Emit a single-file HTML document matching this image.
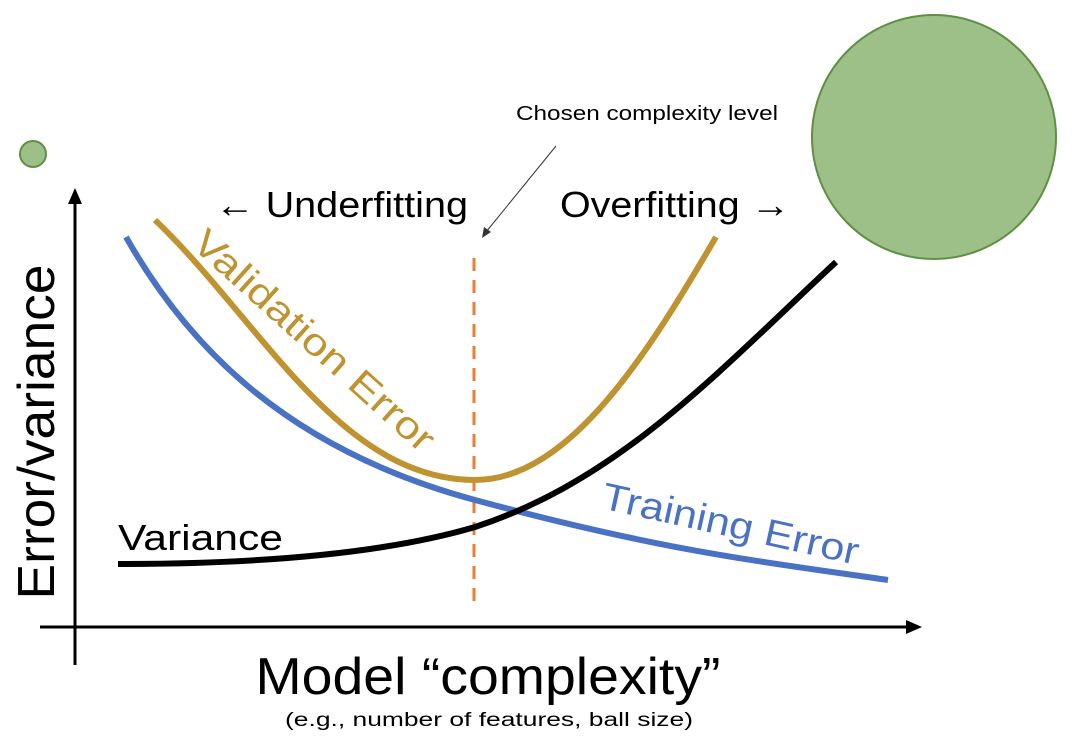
<!DOCTYPE html>
<html><head><meta charset="utf-8"><style>
html,body{margin:0;padding:0;background:#fff;}
svg{display:block;font-family:"Liberation Sans",sans-serif;}
</style></head><body>
<svg width="1074" height="742" viewBox="0 0 1074 742" xmlns="http://www.w3.org/2000/svg">
<circle cx="33" cy="154" r="13" fill="#9dc088" stroke="#5f8f42" stroke-width="2"/>
<circle cx="934" cy="137" r="122" fill="#9dc088" stroke="#5f8f42" stroke-width="2"/>
<line x1="75" y1="665" x2="75" y2="200" stroke="#000" stroke-width="3"/>
<polygon points="75,188 68,204 82,204" fill="#000"/>
<line x1="40" y1="627" x2="908" y2="627" stroke="#000" stroke-width="3"/>
<polygon points="922,627 906,620 906,634" fill="#000"/>
<line x1="474" y1="258" x2="474" y2="602" stroke="#ed7d31" stroke-width="3" stroke-dasharray="13,9"/>
<path d="M126,237 C190,350 290,450 475,500 S750,560 888,580" fill="none" stroke="#4a72c4" stroke-width="6"/>
<path d="M155,220 C260,320 340,480 475,480 C570,480 650,350 716,237" fill="none" stroke="#bf9330" stroke-width="6"/>
<path d="M118,564 C250,564 380,555 475,527 C620,480 720,370 836,262" fill="none" stroke="#000" stroke-width="6"/>
<line x1="556" y1="146" x2="486" y2="232" stroke="#333" stroke-width="1"/>
<polygon points="482,238 484,227 491,232" fill="#333"/>
<text x="516" y="120" font-size="20" textLength="262" lengthAdjust="spacingAndGlyphs">Chosen complexity level</text>
<text x="215" y="217" font-size="36" textLength="253" lengthAdjust="spacingAndGlyphs">← Underfitting</text>
<text x="560" y="217" font-size="36" textLength="230" lengthAdjust="spacingAndGlyphs">Overfitting →</text>
<text x="118" y="550" font-size="36" textLength="165" lengthAdjust="spacingAndGlyphs">Variance</text>
<text transform="translate(190,246) rotate(42)" font-size="38" fill="#bf9330" textLength="311" lengthAdjust="spacingAndGlyphs">Validation Error</text>
<text transform="translate(600,508) rotate(12.5)" font-size="38" fill="#4a72c4" textLength="262" lengthAdjust="spacingAndGlyphs">Training Error</text>
<text transform="translate(54,432) rotate(-90)" font-size="52" text-anchor="middle" textLength="335" lengthAdjust="spacingAndGlyphs">Error/variance</text>
<text x="488" y="694" font-size="52" text-anchor="middle" textLength="465" lengthAdjust="spacingAndGlyphs">Model “complexity”</text>
<text x="489" y="726" font-size="19" text-anchor="middle" textLength="408" lengthAdjust="spacingAndGlyphs">(e.g., number of features, ball size)</text>
</svg>
</body></html>
